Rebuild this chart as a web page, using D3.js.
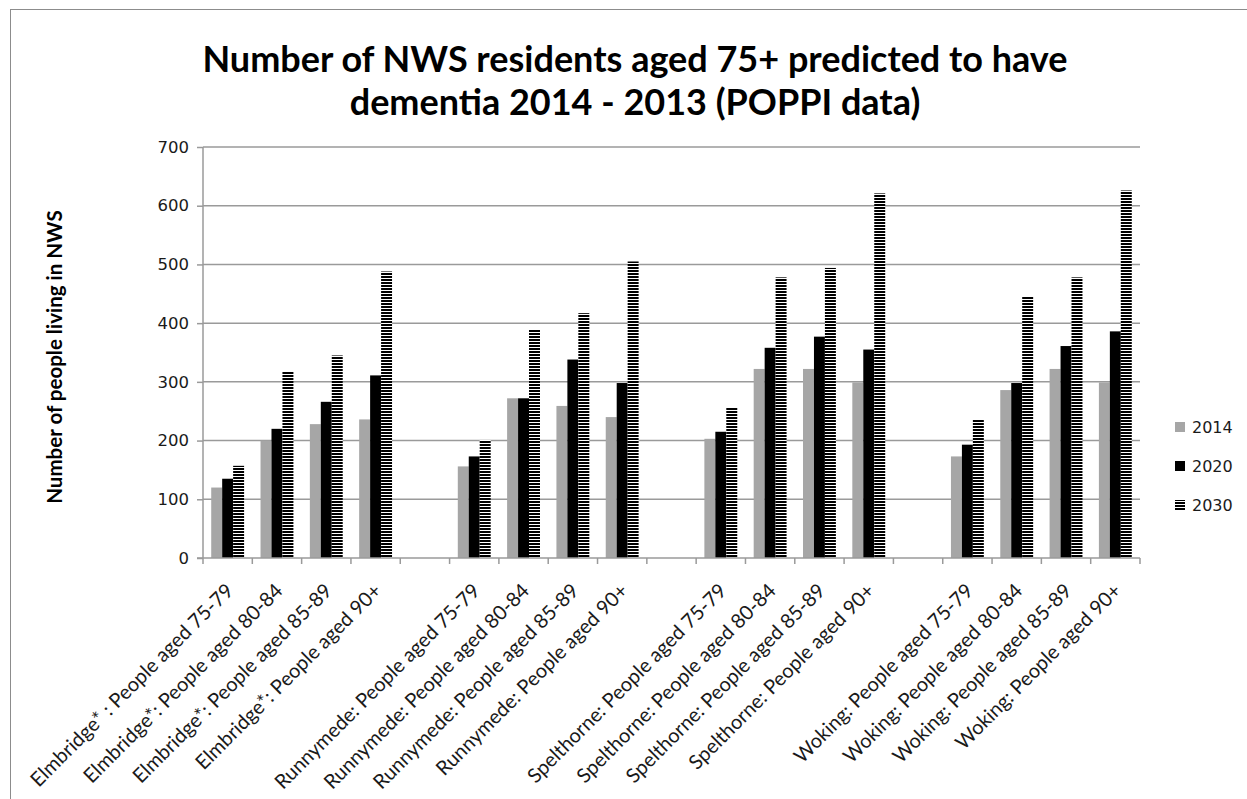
<!DOCTYPE html>
<html>
<head>
<meta charset="utf-8">
<script src="https://cdn.jsdelivr.net/npm/d3@7"></script>
<style>
  html, body { margin: 0; padding: 0; background: #fff; }
  svg { display: block; }
</style>
</head>
<body>
<svg id="chart" width="1247" height="799"></svg>
<script>
// Districts and age bands; empty strings are the spacer slots between districts
const categories = [
  "Elmbridge* : People aged 75-79",
  "Elmbridge*: People aged 80-84",
  "Elmbridge*: People aged 85-89",
  "Elmbridge*: People aged 90+",
  "",
  "Runnymede: People aged 75-79",
  "Runnymede: People aged 80-84",
  "Runnymede: People aged 85-89",
  "Runnymede: People aged 90+",
  "",
  "Spelthorne: People aged 75-79",
  "Spelthorne: People aged 80-84",
  "Spelthorne: People aged 85-89",
  "Spelthorne: People aged 90+",
  "",
  "Woking: People aged 75-79",
  "Woking: People aged 80-84",
  "Woking: People aged 85-89",
  "Woking: People aged 90+"
];

const seriesNames = ["2014", "2020", "2030"];
const values2014 = [120, 200, 228, 236, null, 156, 272, 259, 240, null, 203, 322, 322, 299, null, 173, 286, 322, 299];
const values2020 = [135, 220, 266, 311, null, 173, 272, 338, 298, null, 215, 358, 377, 355, null, 193, 298, 361, 386];
const values2030 = [157, 318, 345, 488, null, 201, 390, 417, 505, null, 257, 478, 494, 621, null, 235, 445, 478, 626];
const yTicks = [0, 100, 200, 300, 400, 500, 600, 700];

const titleLines = [
  "Number of NWS residents aged 75+ predicted to have",
  "dementia 2014 - 2013 (POPPI data)"
];
const yTitle = "Number of people living in NWS";

const svg = d3.select("#chart");

// Outer chart frame
svg.append("rect")
  .attr("x", 10.5).attr("y", 9.5)
  .attr("width", 1300).attr("height", 900)
  .attr("fill", "#fff").attr("stroke", "#8c8c8c").attr("stroke-width", 1);

// Horizontal stripe fill for the 2030 series
const defs = svg.append("defs");
const pat = defs.append("pattern")
  .attr("id", "stripes")
  .attr("patternUnits", "userSpaceOnUse")
  .attr("width", 6).attr("height", 3);
pat.append("rect").attr("width", 6).attr("height", 3).attr("fill", "#fff");
pat.append("rect").attr("width", 6).attr("height", 2).attr("fill", "#000");

const plot = { left: 203, right: 1140, top: 147, bottom: 558 };

const x = d3.scaleBand()
  .domain(d3.range(categories.length))
  .range([plot.left, plot.right])
  .paddingInner(0).paddingOuter(0);

const y = d3.scaleLinear()
  .domain([0, 700])
  .range([plot.bottom, plot.top]);

const bw = x.bandwidth();
const barW = bw / 4.5;
const groupOffset = (bw - 3 * barW) / 2;
const x1 = d3.scaleBand()
  .domain(seriesNames)
  .range([groupOffset, groupOffset + 3 * barW])
  .padding(0);

const fills = { "2014": "#a6a6a6", "2020": "#000000", "2030": "url(#stripes)" };
const seriesValues = { "2014": values2014, "2020": values2020, "2030": values2030 };

// Gridlines + y axis
const yAxis = d3.axisLeft(y).tickValues(yTicks).tickSize(6).tickPadding(8);
const gy = svg.append("g").attr("transform", `translate(${plot.left},0)`).call(yAxis);
gy.select(".domain").remove();
gy.selectAll(".tick line").attr("stroke", "#9a9a9a").attr("stroke-width", 1.5);
gy.selectAll(".tick text")
  .attr("font-family", "'DejaVu Sans', Verdana, sans-serif")
  .attr("font-size", 16.5).attr("fill", "#1a1a1a");

svg.append("g").selectAll("line")
  .data(yTicks.filter(d => d > 0))
  .join("line")
  .attr("x1", plot.left).attr("x2", plot.right)
  .attr("y1", d => y(d)).attr("y2", d => y(d))
  .attr("stroke", "#9a9a9a").attr("stroke-width", 1.5);

// Bars
const barsG = svg.append("g");
seriesNames.forEach(s => {
  barsG.append("g").selectAll("rect")
    .data(seriesValues[s].map((v, i) => ({ i, v })).filter(d => d.v != null))
    .join("rect")
    .attr("x", d => x(d.i) + x1(s))
    .attr("width", x1.bandwidth())
    .attr("y", d => y(d.v))
    .attr("height", d => y(0) - y(d.v))
    .attr("fill", fills[s]);
});

// Axis lines
svg.append("line")
  .attr("x1", plot.left).attr("x2", plot.left)
  .attr("y1", plot.top).attr("y2", plot.bottom)
  .attr("stroke", "#9a9a9a").attr("stroke-width", 1.5);
svg.append("line")
  .attr("x1", plot.left - 6).attr("x2", plot.right)
  .attr("y1", plot.bottom).attr("y2", plot.bottom)
  .attr("stroke", "#9a9a9a").attr("stroke-width", 1.5);

// Category boundary ticks
const boundaries = d3.range(categories.length + 1).map(i => plot.left + i * bw);
svg.append("g").selectAll("line")
  .data(boundaries)
  .join("line")
  .attr("x1", d => d).attr("x2", d => d)
  .attr("y1", plot.bottom).attr("y2", plot.bottom + 6)
  .attr("stroke", "#9a9a9a").attr("stroke-width", 1.5);

// Rotated category labels
svg.append("g").selectAll("text")
  .data(categories.map((c, i) => ({ c, i })).filter(d => d.c !== ""))
  .join("text")
  .attr("transform", d => `translate(${x(d.i) + bw / 2 + 7},${plot.bottom + 34}) rotate(-45)`)
  .attr("text-anchor", "end")
  .attr("font-family", "Lato, 'Open Sans', sans-serif")
  .attr("font-size", 20)
  .attr("fill", "#1a1a1a")
  .text(d => d.c);

// Title
svg.append("g").selectAll("text")
  .data(titleLines)
  .join("text")
  .attr("x", 635)
  .attr("y", (d, i) => 72 + i * 43)
  .attr("text-anchor", "middle")
  .attr("font-family", "Lato, 'Open Sans', sans-serif")
  .attr("font-weight", "bold")
  .attr("font-size", 36)
  .attr("fill", "#000")
  .text(d => d);

// Y axis title
svg.append("text")
  .attr("transform", `translate(62,357) rotate(-90)`)
  .attr("text-anchor", "middle")
  .attr("font-family", "Lato, 'Open Sans', sans-serif")
  .attr("font-weight", "bold")
  .attr("font-size", 20.5)
  .attr("fill", "#000")
  .text(yTitle);

// Legend
const legendY = d3.scalePoint().domain(seriesNames).range([427, 505]);
const lg = svg.append("g").selectAll("g")
  .data(seriesNames)
  .join("g")
  .attr("transform", d => `translate(1175,${legendY(d)})`);
lg.append("rect")
  .attr("x", 0).attr("y", -5).attr("width", 10).attr("height", 10)
  .attr("fill", d => fills[d]);
lg.append("text")
  .attr("x", 17).attr("dy", "0.36em")
  .attr("font-family", "'DejaVu Sans', Verdana, sans-serif")
  .attr("font-size", 16)
  .attr("fill", "#1a1a1a")
  .text(d => d);
</script>
</body>
</html>
